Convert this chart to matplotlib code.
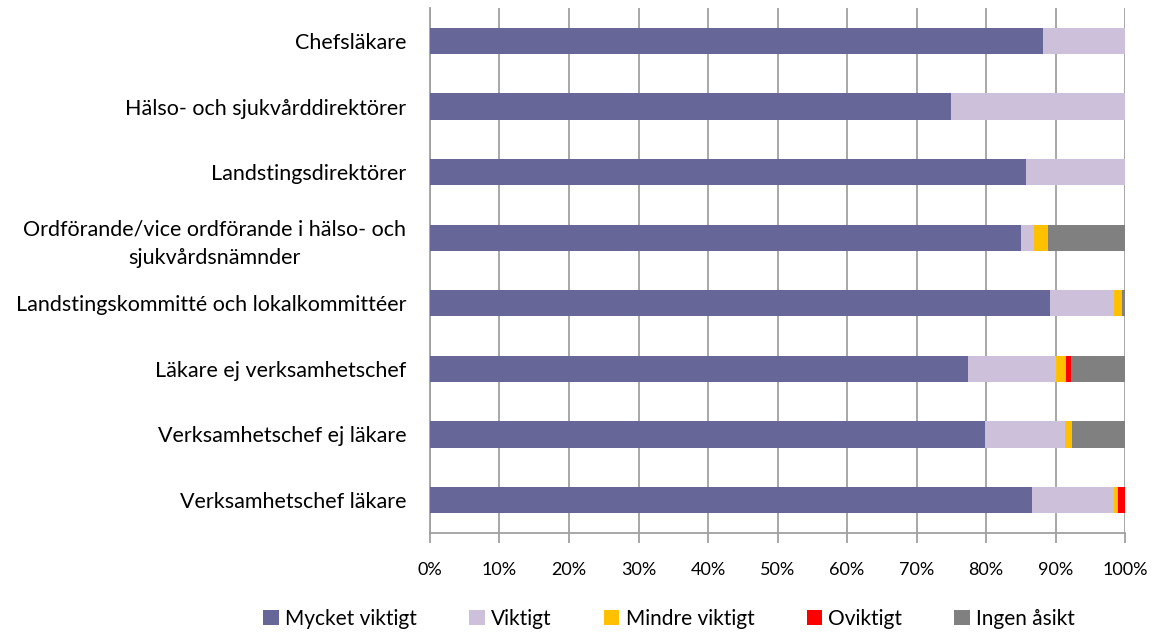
import numpy as np
import matplotlib.pyplot as plt

plt.rcParams['font.family'] = ['Lato', 'DejaVu Sans']

categories = ['Chefsläkare',
              'Hälso- och sjukvårddirektörer',
              'Landstingsdirektörer',
              'Ordförande/vice ordförande i hälso- och\nsjukvårdsnämnder',
              'Landstingskommitté och lokalkommittéer',
              'Läkare ej verksamhetschef',
              'Verksamhetschef ej läkare',
              'Verksamhetschef läkare']

series_names = ['Mycket viktigt', 'Viktigt', 'Mindre viktigt', 'Oviktigt', 'Ingen åsikt']
colors = ['#666699', '#CCC0DA', '#FFC000', '#FF0000', '#808080']

mycket = [88.2, 75.0, 85.7, 85.0, 89.2, 77.4, 79.8, 86.6]
viktigt = [11.8, 25.0, 14.3, 1.9, 9.2, 12.6, 11.6, 11.8]
mindre = [0.0, 0.0, 0.0, 2.0, 1.1, 1.5, 1.0, 0.6]
oviktigt = [0.0, 0.0, 0.0, 0.0, 0.0, 0.7, 0.0, 1.0]
ingen = [0.0, 0.0, 0.0, 11.1, 0.5, 7.8, 7.6, 0.0]

values = [mycket, viktigt, mindre, oviktigt, ingen]

fig = plt.figure(figsize=(11.54, 6.32), dpi=100)
ax = fig.add_axes([0.3726, 0.157, 0.6024, 0.830])

y = np.arange(len(categories))
left = np.zeros(len(categories))
for name, vals, c in zip(series_names, values, colors):
    ax.barh(y, vals, left=left, height=0.4, color=c, label=name, zorder=3)
    left += np.array(vals)

ax.set_ylim(len(categories) - 0.5, -0.5)
ax.set_xlim(0, 100)
ax.set_xticks(np.arange(0, 101, 10))
ax.set_xticklabels([f'{v}%' for v in range(0, 101, 10)], fontsize=13)
ax.set_yticks(y)
ax.set_yticklabels(categories, fontsize=15.5)
for lab in ax.get_yticklabels():
    lab.set_multialignment('center')
    lab.set_linespacing(1.5)

ax.grid(axis='x', color='#A0A0A0', linewidth=1.3, zorder=0)
for s in ['top', 'right']:
    ax.spines[s].set_visible(False)
for s in ['left', 'bottom']:
    ax.spines[s].set_color('#A0A0A0')
    ax.spines[s].set_linewidth(1.3)
ax.tick_params(axis='y', length=0, pad=17)
ax.tick_params(axis='x', length=7, color='#A0A0A0', width=1.3, pad=14)

fig.legend(loc='lower center', bbox_to_anchor=(0.58, -0.025), ncol=5, frameon=False,
           fontsize=15, handlelength=0.75, handleheight=0.75, handletextpad=0.3,
           columnspacing=2.5)

fig.savefig('out.png', dpi=100)
